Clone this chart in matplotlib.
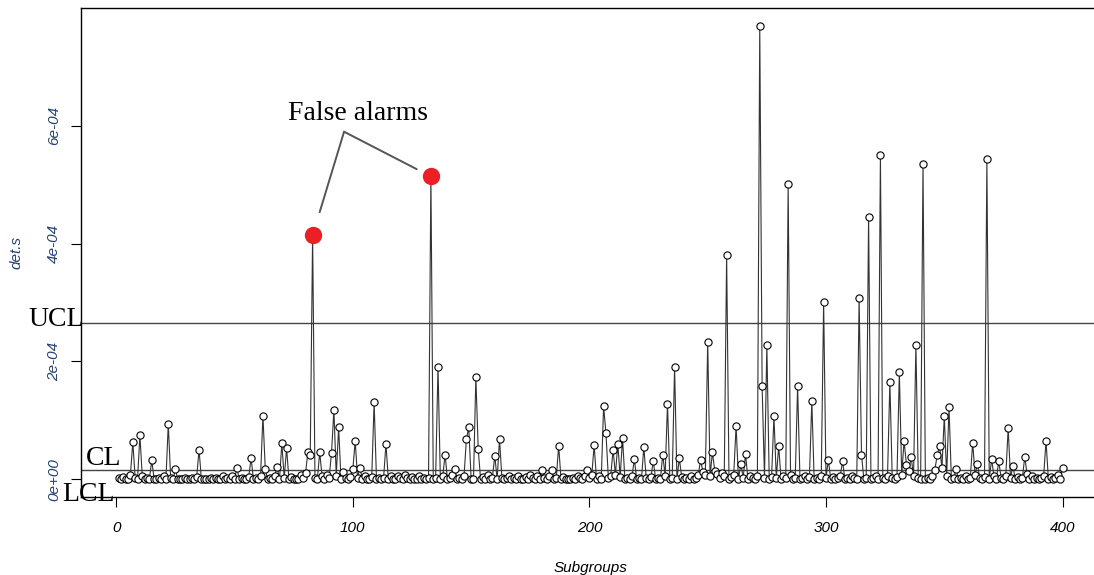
import matplotlib.pyplot as plt

# det.s values for subgroups 1..400, in units of 1e-05
det_s = [
    0.2, 0.0, 0.4, 0.1, 0.0, 0.8, 6.3, 0.3, 0.0, 7.5, 0.5, 0.0, 0.2, 0.0, 3.2, 0.1, 0.0, 0.3, 0.0, 0.6,
    0.0, 9.4, 0.2, 0.0, 1.7, 0.0, 0.1, 0.0, 0.3, 0.0, 0.0, 0.2, 0.0, 0.4, 5.0, 0.0, 0.1, 0.0, 0.0, 0.2,
    0.0, 0.3, 0.0, 0.1, 0.5, 0.0, 0.2, 0.0, 0.6, 0.0, 1.9, 0.0, 0.3, 0.0, 0.1, 0.4, 3.6, 0.0, 0.2, 0.0,
    0.5, 10.8, 1.7, 0.0, 0.3, 0.0, 0.6, 2.1, 0.0, 6.1, 0.2, 5.3, 0.0, 0.4, 0.0, 0.1, 0.0, 0.7, 0.3, 1.0,
    4.6, 4.1, 41.4, 0.2, 0.0, 4.6, 0.5, 0.0, 0.8, 0.3, 4.5, 11.8, 0.6, 8.8, 0.0, 1.2, 0.2, 0.0, 0.4, 1.7,
    6.5, 0.3, 2.0, 0.0, 0.5, 0.1, 0.0, 0.4, 13.1, 0.0, 0.3, 0.0, 0.2, 6.0, 0.0, 0.5, 0.1, 0.0, 0.6, 0.2,
    0.0, 0.7, 0.3, 0.0, 0.4, 0.1, 0.0, 0.6, 0.0, 0.2, 0.0, 0.3, 51.4, 0.0, 0.2, 19.1, 0.0, 0.5, 4.2, 0.0,
    0.3, 0.8, 1.8, 0.0, 0.2, 0.0, 0.5, 6.8, 8.8, 0.1, 0.0, 17.4, 5.1, 0.0, 0.4, 0.1, 0.7, 0.0, 0.3, 4.0,
    0.0, 6.8, 0.3, 0.0, 0.2, 0.5, 0.0, 0.3, 0.0, 0.6, 0.1, 0.0, 0.4, 0.0, 0.8, 0.2, 0.0, 0.5, 0.0, 1.5,
    0.3, 0.0, 0.6, 1.5, 0.0, 0.2, 5.7, 0.0, 0.4, 0.0, 0.1, 0.0, 0.3, 0.0, 0.5, 0.2, 0.0, 0.6, 1.5, 0.3,
    0.7, 5.8, 0.0, 0.5, 0.0, 12.4, 7.8, 0.3, 0.6, 5.0, 0.8, 6.0, 0.4, 7.0, 0.0, 0.2, 0.0, 0.5, 3.4, 0.0,
    0.3, 0.0, 5.5, 0.2, 0.0, 0.4, 3.1, 0.0, 0.3, 0.0, 4.2, 0.6, 12.8, 0.0, 0.2, 19.1, 0.0, 3.6, 0.4, 0.0,
    0.2, 0.0, 0.5, 0.0, 0.3, 0.7, 3.3, 1.2, 0.8, 23.3, 0.5, 4.6, 1.4, 0.9, 0.3, 1.1, 0.6, 38.1, 0.0, 0.4,
    0.8, 9.1, 0.0, 2.6, 0.3, 4.3, 0.0, 0.6, 0.2, 0.0, 0.5, 76.9, 15.8, 0.3, 22.8, 0.0, 0.4, 10.7, 0.2, 5.7,
    0.0, 0.5, 0.2, 50.1, 0.8, 0.0, 0.3, 15.8, 0.0, 0.2, 0.6, 0.0, 0.4, 13.3, 0.0, 0.3, 0.0, 0.5, 30.1, 0.2,
    3.3, 0.0, 0.4, 0.0, 0.2, 0.5, 3.1, 0.0, 0.3, 0.0, 0.6, 0.2, 0.0, 30.8, 4.2, 0.0, 0.3, 44.6, 0.0, 0.2,
    0.5, 0.0, 55.1, 0.3, 0.0, 0.6, 16.5, 0.2, 0.0, 0.4, 18.2, 0.8, 6.5, 2.5, 1.4, 3.8, 0.5, 22.8, 0.3, 0.0,
    53.6, 0.0, 0.2, 0.0, 0.5, 1.6, 4.1, 5.7, 1.9, 10.7, 0.6, 12.2, 0.0, 0.3, 1.7, 0.0, 0.2, 0.0, 0.5, 0.0,
    0.3, 6.2, 0.8, 2.6, 0.2, 0.0, 0.4, 54.3, 0.0, 3.4, 0.5, 0.0, 3.1, 0.3, 0.0, 0.6, 8.7, 0.2, 2.3, 0.0,
    0.4, 0.0, 0.2, 3.8, 0.9, 0.0, 0.5, 0.0, 0.3, 0.0, 0.2, 0.6, 6.5, 0.0, 0.4, 0.0, 0.3, 0.7, 0.0, 1.9,
]
subgroups = list(range(1, len(det_s) + 1))
det_s = [v * 1e-5 for v in det_s]

# control limits
ucl = 2.65e-4
cl = 1.66e-5

# the two points flagged as false alarms
alarm_idx = [83, 133]

xticks = [0, 100, 200, 300, 400]
yticks = [0, 2e-4, 4e-4, 6e-4]
ytick_labels = ["0e+00", "2e-04", "4e-04", "6e-04"]

blue = "#26407a"
serif = "Liberation Serif"

fig = plt.figure(figsize=(10.94, 5.75), dpi=100)
ax = fig.add_axes([0.0739, 0.1357, 0.9319, 0.8504])

ax.plot(subgroups, det_s, color="#333333", lw=0.8, zorder=2)
ax.plot(subgroups, det_s, "o", ms=5.2, mfc="white", mec="black", mew=0.8, zorder=3)

ax.axhline(ucl, color="#444444", lw=1.0, zorder=1)
ax.axhline(cl, color="#444444", lw=1.0, zorder=1)

# red markers on the false alarms
ax_x = [subgroups[i - 1] for i in alarm_idx]
ax_y = [det_s[i - 1] for i in alarm_idx]
ax.plot(ax_x, ax_y, "o", ms=12.5, color="#ec1f24", mec="none", zorder=4)

# labels for the control lines
ax.text(-37.3, 2.72e-4, "UCL", fontsize=20, family=serif, va="center", ha="left", clip_on=False)
ax.text(-12.7, 3.6e-5, "CL", fontsize=20, family=serif, va="center", ha="left", clip_on=False)
ax.text(-22.9, -2.5e-5, "LCL", fontsize=20, family=serif, va="center", ha="left", clip_on=False)

# annotation
apex = (96.3, 5.9e-4)
ax.text(102.0, 6.1e-4, "False alarms", fontsize=20, family=serif, ha="center", va="baseline")
for (px, py), shrink in zip(zip(ax_x, ax_y), [17.5, 11.5]):
    ax.annotate("", xy=(px, py), xytext=apex,
                arrowprops=dict(arrowstyle="-", color="#555555", lw=1.4,
                                shrinkA=0, shrinkB=shrink))

ax.set_xlim(-14.96, 415.96)
ax.set_ylim(-3.0e-5, 8.0e-4)

ax.set_xticks(xticks)
ax.set_xticklabels([str(t) for t in xticks], fontsize=11, style="italic",
                   family="Liberation Sans")
ax.set_yticks(yticks)
ax.set_yticklabels(ytick_labels, fontsize=11, style="italic", family="Liberation Sans",
                   color=blue, rotation=90, va="center")
ax.tick_params(axis="x", length=7, width=0.8, pad=10)
ax.tick_params(axis="y", length=7, width=0.8, pad=7)

ax.set_xlabel("Subgroups", fontsize=11, style="italic", family="Liberation Sans", labelpad=19)
ax.set_ylabel("det.s", fontsize=11, style="italic", family="Liberation Sans", color=blue,
              labelpad=17)

for s in ax.spines.values():
    s.set_linewidth(1.0)
# the right side of the box falls outside the picture
ax.spines["right"].set_visible(False)

plt.savefig("out.png", dpi=100)
